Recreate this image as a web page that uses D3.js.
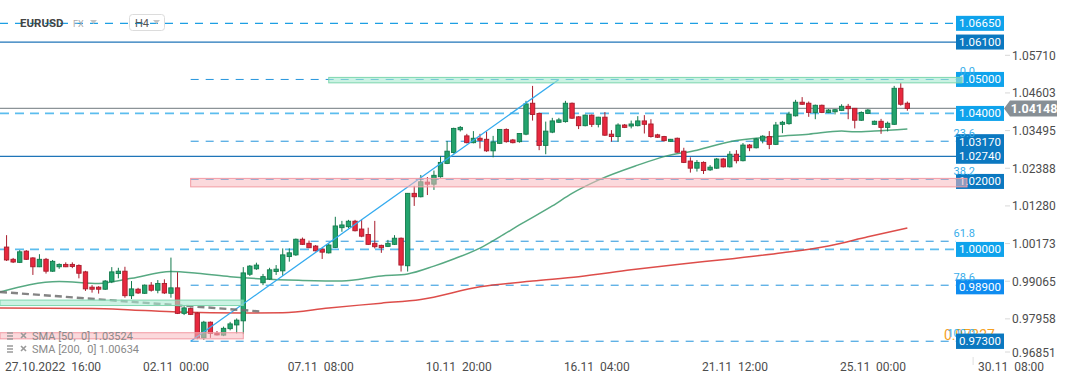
<!DOCTYPE html>
<html>
<head>
<meta charset="utf-8">
<script src="https://cdn.jsdelivr.net/npm/d3@7"></script>
<style>
  html, body { margin: 0; padding: 0; background: #fff; }
  svg { display: block; font-family: Roboto, "Noto Sans", sans-serif; }
</style>
</head>
<body>
<div id="chart"></div>
<script>
// ---------- data (EURUSD, H4) ----------
const firstBar = 1;
const opens = [1.0007,0.9971,0.9962,0.9995,0.9975,0.9949,0.9971,0.9936,0.9949,0.9956,0.9956,0.9953,0.9934,0.9889,0.9889,0.9883,0.9905,0.9929,0.9936,0.9864,
  0.9883,0.9871,0.9895,0.9880,0.9900,0.9871,0.9887,0.9812,0.9826,0.9813,0.9740,0.9786,0.9753,0.9748,0.9767,0.9778,0.9790,0.9927,0.9943,0.9902,
  0.9913,0.9935,0.9937,0.9979,0.9984,1.0030,1.0018,1.0010,1.0001,0.9990,1.0006,1.0064,1.0067,1.0083,1.0060,1.0044,1.0018,1.0012,1.0009,1.0015,
  1.0033,0.9952,1.0165,1.0155,1.0198,1.0192,1.0214,1.0253,1.0285,1.0352,1.0334,1.0314,1.0327,1.0324,1.0290,1.0312,1.0353,1.0322,1.0317,1.0339,
  1.0430,1.0400,1.0306,1.0345,1.0374,1.0376,1.0430,1.0390,1.0364,1.0395,1.0368,1.0389,1.0339,1.0332,1.0366,1.0363,1.0364,1.0378,1.0369,1.0337,
  1.0332,1.0318,1.0327,1.0289,1.0260,1.0239,1.0256,1.0234,1.0239,1.0266,1.0243,1.0280,1.0261,1.0307,1.0299,1.0321,1.0332,1.0309,1.0368,1.0370,
  1.0393,1.0433,1.0430,1.0403,1.0424,1.0403,1.0405,1.0409,1.0421,1.0415,1.0380,1.0400,1.0368,1.0377,1.0359,1.0368,1.0474,1.0430];
const highs = [1.0042,0.9975,0.9998,0.9998,0.9977,0.9986,0.9975,0.9969,0.9959,0.9962,0.9962,0.9956,0.9937,0.9895,0.9892,0.9910,0.9948,0.9946,0.9949,0.9907,
  0.9887,0.9897,0.9904,0.9910,0.9912,0.9976,0.9933,0.9833,0.9829,0.9816,0.9790,0.9788,0.9760,0.9773,0.9787,0.9797,0.9948,0.9954,0.9961,0.9928,
  0.9946,0.9954,1.0003,1.0003,1.0032,1.0035,1.0026,1.0013,1.0003,1.0018,1.0096,1.0084,1.0087,1.0087,1.0087,1.0064,1.0084,1.0014,1.0028,1.0042,
  1.0035,1.0166,1.0187,1.0219,1.0213,1.0232,1.0275,1.0319,1.0358,1.0363,1.0340,1.0348,1.0340,1.0347,1.0334,1.0354,1.0356,1.0325,1.0342,1.0437,
  1.0481,1.0403,1.0376,1.0387,1.0387,1.0437,1.0432,1.0392,1.0397,1.0397,1.0390,1.0404,1.0351,1.0371,1.0369,1.0379,1.0392,1.0395,1.0383,1.0340,
  1.0334,1.0325,1.0329,1.0299,1.0271,1.0263,1.0259,1.0248,1.0269,1.0269,1.0289,1.0292,1.0313,1.0310,1.0328,1.0336,1.0348,1.0375,1.0378,1.0405,
  1.0440,1.0448,1.0435,1.0426,1.0426,1.0413,1.0413,1.0427,1.0428,1.0416,1.0406,1.0413,1.0379,1.0384,1.0376,1.0481,1.0489,1.0435];
const lows = [0.9966,0.9960,0.9960,0.9969,0.9925,0.9948,0.9929,0.9934,0.9943,0.9948,0.9945,0.9915,0.9878,0.9873,0.9870,0.9881,0.9901,0.9915,0.9858,0.9854,
  0.9869,0.9869,0.9876,0.9871,0.9869,0.9858,0.9810,0.9807,0.9807,0.9736,0.9734,0.9740,0.9747,0.9745,0.9762,0.9753,0.9751,0.9922,0.9940,0.9895,
  0.9910,0.9925,0.9922,0.9964,0.9981,1.0013,1.0004,0.9994,0.9972,0.9988,1.0004,1.0052,1.0062,1.0053,1.0036,1.0013,1.0003,0.9990,1.0007,1.0013,
  0.9935,0.9935,1.0128,1.0153,1.0160,1.0175,1.0211,1.0251,1.0282,1.0347,1.0312,1.0312,1.0297,1.0287,1.0271,1.0310,1.0314,1.0312,1.0314,1.0336,
  1.0379,1.0292,1.0280,1.0342,1.0372,1.0373,1.0384,1.0354,1.0362,1.0360,1.0359,1.0334,1.0317,1.0317,1.0357,1.0356,1.0362,1.0341,1.0329,1.0328,
  1.0317,1.0316,1.0284,1.0254,1.0226,1.0229,1.0222,1.0231,1.0237,1.0241,1.0241,1.0253,1.0259,1.0289,1.0297,1.0312,1.0295,1.0307,1.0342,1.0367,
  1.0391,1.0425,1.0390,1.0383,1.0401,1.0401,1.0397,1.0407,1.0383,1.0356,1.0378,1.0398,1.0366,1.0340,1.0347,1.0366,1.0423,1.0408];
const closes = [0.9969,0.9963,0.9993,0.9971,0.9949,0.9971,0.9936,0.9965,0.9956,0.9949,0.9950,0.9930,0.9884,0.9883,0.9883,0.9907,0.9934,0.9936,0.9864,0.9884,
  0.9872,0.9895,0.9880,0.9900,0.9872,0.9887,0.9812,0.9828,0.9809,0.9740,0.9786,0.9753,0.9749,0.9768,0.9781,0.9792,0.9931,0.9951,0.9954,0.9920,
  0.9940,0.9942,0.9984,0.9990,1.0030,1.0015,1.0005,0.9996,0.9992,1.0013,1.0069,1.0072,1.0083,1.0055,1.0039,1.0015,1.0008,1.0005,1.0018,1.0033,
  0.9954,1.0165,1.0155,1.0199,1.0192,1.0218,1.0256,1.0289,1.0356,1.0359,1.0314,1.0327,1.0321,1.0290,1.0316,1.0353,1.0317,1.0314,1.0341,1.0428,
  1.0397,1.0306,1.0348,1.0378,1.0381,1.0430,1.0386,1.0364,1.0395,1.0368,1.0389,1.0336,1.0332,1.0366,1.0359,1.0369,1.0378,1.0368,1.0332,1.0330,
  1.0320,1.0324,1.0286,1.0256,1.0239,1.0256,1.0232,1.0242,1.0266,1.0243,1.0280,1.0261,1.0307,1.0299,1.0325,1.0333,1.0309,1.0366,1.0374,1.0398,
  1.0433,1.0427,1.0403,1.0424,1.0403,1.0410,1.0411,1.0421,1.0414,1.0380,1.0403,1.0410,1.0377,1.0359,1.0371,1.0474,1.0427,1.04148];

// moving averages (bar index / value)
const sma50Idx = [0,9,15,20,26,30,35,40,46,52,58,62,66,69,73,76,79,84,87,91,97,101,106,111,118,123,128,130,133,138];
const sma50Val = [0.9875,0.9906,0.9900,0.9915,0.9935,0.9930,0.9920,0.9913,0.9909,0.9907,0.9922,0.9928,0.9951,0.9972,1.0004,1.0037,1.0072,1.0128,1.0165,1.0204,
  1.0248,1.0273,1.0292,1.0317,1.0332,1.0339,1.0348,1.0346,1.0348,1.0354];
const sma200Idx = [0,14,20,27,37,43,50,58,64,73,81,88,96,103,111,119,126,132,138];
const sma200Val = [0.9828,0.9826,0.9822,0.9816,0.9813,0.9814,0.9828,0.9842,0.9853,0.9890,0.9907,0.9920,0.9940,0.9956,0.9972,0.9990,1.0010,1.0037,1.0063];

// price axis ticks
const priceTicks = [1.05710,1.04603,1.03495,1.02388,1.01280,1.00173,0.99065,0.97958,0.96851];
// time axis
const timeTickIdx = [0,21,43,64,85,106,127,148];
const timeTickLabels = ["27.10.2022  16:00","02.11  00:00","07.11  08:00","10.11  20:00","16.11  04:00","21.11  12:00","25.11  00:00","30.11  08:00"];

// horizontal levels: price, line kind, label box kind
const levelPrices = [1.0665,1.0610,1.0500,1.0400,1.0317,1.0274,1.0200,1.0000,0.9890,0.9730];
const levelLines  = ["dash","solid","none","dashLight","none","solid","none","dashLight","none","none"];
const levelBoxes  = ["light","dark","light","light","dark","dark","dark","light","mid","dark"];
const lastPrice = 1.04148;

// fibonacci retracement (start bar, low -> end bar, high)
const fibStartIdx = 29, fibEndIdx = 85, fibLow = 0.9730, fibHigh = 1.0500;
const fibLevels = [0, 23.6, 38.2, 61.8, 78.6, 100];
const fibLabels = ["0.0","23.6","38.2","61.8","78.6","100.0"];

// zones: start bar, end bar (null = right edge), top, bottom, colour kind
const zoneStart = [50, 29, 0, 0];
const zoneEnd   = [null, null, 37, 37];
const zoneTop   = [1.0506, 1.0209, 0.9851, 0.9755];
const zoneBot   = [1.0490, 1.0184, 0.9835, 0.9737];
const zoneKind  = ["green","pink","green","pink"];

// dashed grey trendline
const trendIdx = [0, 40];
const trendVal = [0.9875, 0.9817];

const smaLegend = [["SMA [50,  0]", "1.03524"], ["SMA [200,  0]", "1.00634"]];

// ---------- setup ----------
const W = 1072, H = 382;
const plotRight = 956;
const x = d3.scaleLinear().domain([0, 148]).range([0, 973.1]);
const y = d3.scaleLinear().domain([0.96851, 1.05710]).range([356.5, 55.3]);

const svg = d3.select("#chart").append("svg").attr("width", W).attr("height", H);
svg.append("defs").append("clipPath").attr("id", "plotClip")
  .append("rect").attr("x", 0).attr("y", 0).attr("width", plotRight).attr("height", 358);

const plot = svg.append("g").attr("clip-path", "url(#plotClip)");

// level lines
levelPrices.forEach((p, i) => {
  const k = levelLines[i];
  if (k === "none") return;
  const ln = plot.append("line").attr("x1", 0).attr("x2", plotRight)
    .attr("y1", y(p)).attr("y2", y(p));
  if (k === "solid") ln.attr("stroke", "#1f75b8").attr("stroke-width", 1.3);
  if (k === "dash") ln.attr("stroke", "#1e9fe3").attr("stroke-width", 1.2).attr("stroke-dasharray", "8,7");
  if (k === "dashLight") ln.attr("stroke", "#5cbdee").attr("stroke-width", 1.8).attr("stroke-dasharray", "9,6");
});

// fib lines
const fibPrice = lv => fibHigh - (fibHigh - fibLow) * lv / 100;
fibLevels.forEach(lv => {
  plot.append("line").attr("x1", x(fibStartIdx)).attr("x2", plotRight)
    .attr("y1", y(fibPrice(lv))).attr("y2", y(fibPrice(lv)))
    .attr("stroke", "#2394dc").attr("stroke-width", 1).attr("stroke-dasharray", "8,7");
});

// last price line
plot.append("line").attr("x1", 0).attr("x2", plotRight)
  .attr("y1", y(lastPrice)).attr("y2", y(lastPrice))
  .attr("stroke", "#8c9397").attr("stroke-width", 1.4);

// SMAs
const smaLine = d3.line().x(d => x(d[0])).y(d => y(d[1])).curve(d3.curveMonotoneX);
plot.append("path").datum(sma200Idx.map((d, i) => [d, sma200Val[i]]))
  .attr("d", smaLine).attr("fill", "none").attr("stroke", "#d93a36").attr("stroke-width", 1.5).attr("opacity", 0.9);
plot.append("path").datum(sma50Idx.map((d, i) => [d, sma50Val[i]]))
  .attr("d", smaLine).attr("fill", "none").attr("stroke", "#3a9a6c").attr("stroke-width", 1.5).attr("opacity", 0.85);

// candles
const bars = opens.map((o, i) => ({ i: i + firstBar, o, h: highs[i], l: lows[i], c: closes[i] }));
const cg = plot.append("g");
const bw = 4.4;
bars.forEach(b => {
  const up = b.c >= b.o;
  const edge = up ? "#137a4c" : "#a81c2c";
  const fill = up ? "#23a46d" : "#e8283e";
  const cx = x(b.i);
  cg.append("line").attr("x1", cx).attr("x2", cx).attr("y1", y(b.h)).attr("y2", y(b.l))
    .attr("stroke", edge).attr("stroke-width", 1);
  const top = y(Math.max(b.o, b.c)), bot = y(Math.min(b.o, b.c));
  cg.append("rect").attr("x", cx - bw / 2).attr("y", top)
    .attr("width", bw).attr("height", Math.max(1.5, bot - top))
    .attr("fill", fill).attr("stroke", edge).attr("stroke-width", 0.9);
});

// fib diagonal
plot.append("line")
  .attr("x1", x(fibStartIdx)).attr("y1", y(fibLow))
  .attr("x2", x(fibEndIdx)).attr("y2", y(fibHigh))
  .attr("stroke", "#34abef").attr("stroke-width", 1.3);

// grey dashed trendline
plot.append("line")
  .attr("x1", x(trendIdx[0])).attr("y1", y(trendVal[0]))
  .attr("x2", x(trendIdx[1])).attr("y2", y(trendVal[1]))
  .attr("stroke", "#6f6f6f").attr("stroke-width", 2.4).attr("stroke-dasharray", "7,4").attr("opacity", 0.85);

// right-axis label boxes
const boxCol = { light: "#0fa3ec", mid: "#0f8cf0", dark: "#0b78c0" };
levelPrices.forEach((p, i) => {
  const yy = y(p);
  svg.append("rect").attr("x", plotRight).attr("y", yy - 7.5).attr("width", 48).attr("height", 15)
    .attr("fill", boxCol[levelBoxes[i]]);
  svg.append("text").attr("x", plotRight + 24).attr("y", yy + 4).attr("text-anchor", "middle")
    .attr("fill", "#fff").attr("font-size", 11.5).text(p.toFixed(5));
});

// zones (drawn over candles, semi-transparent)
zoneStart.forEach((s, i) => {
  const x0 = x(s), x1 = zoneEnd[i] === null ? (zoneKind[i] === "green" ? 962 : 967) : x(zoneEnd[i]);
  const green = zoneKind[i] === "green";
  svg.append("rect").attr("x", x0).attr("y", y(zoneTop[i]))
    .attr("width", x1 - x0).attr("height", y(zoneBot[i]) - y(zoneTop[i]))
    .attr("fill", green ? "#a9ead0" : "#f8b9bf").attr("fill-opacity", green ? 0.6 : 0.55)
    .attr("stroke", green ? "#7ed6ae" : "#f29aa3").attr("stroke-width", 1);
});

// fib level labels
fibLevels.forEach((lv, i) => {
  if (i === fibLevels.length - 1) return;
  svg.append("text").attr("x", 975).attr("y", y(fibPrice(lv)) - 4).attr("text-anchor", "end")
    .attr("fill", "#3aaeea").attr("font-size", 11).text(fibLabels[i]);
});
// overlapping labels at the bottom fib level
svg.append("text").attr("x", 944).attr("y", y(fibLow) - 1).attr("fill", "#f5a11f")
  .attr("font-size", 14).text("0.97327");
svg.append("text").attr("x", 975).attr("y", y(fibLow) - 4).attr("text-anchor", "end")
  .attr("fill", "#3aaeea").attr("font-size", 11).text(fibLabels[fibLabels.length - 1]);
// redraw the 0.97300 box over them
{
  const yy = y(0.9730);
  svg.append("rect").attr("x", plotRight).attr("y", yy - 7.5).attr("width", 48).attr("height", 15).attr("fill", boxCol.dark);
  svg.append("text").attr("x", plotRight + 24).attr("y", yy + 4).attr("text-anchor", "middle")
    .attr("fill", "#fff").attr("font-size", 11.5).text("0.97300");
}

// price axis
priceTicks.forEach(v => {
  const yy = Math.min(y(v), 352);
  svg.append("line").attr("x1", 1005).attr("x2", 1010).attr("y1", yy).attr("y2", yy)
    .attr("stroke", "#d8d8d8");
  svg.append("text").attr("x", 1012).attr("y", yy + 4.5).attr("fill", "#4d4d4d")
    .attr("font-size", 12).text(v.toFixed(5));
});

// last price tag
{
  const yy = y(lastPrice);
  svg.append("path")
    .attr("d", `M1004,${yy} L1010,${yy - 8} L1057,${yy - 8} L1057,${yy + 8} L1010,${yy + 8} Z`)
    .attr("fill", "#878f95");
  svg.append("text").attr("x", 1034).attr("y", yy + 4.5).attr("text-anchor", "middle")
    .attr("fill", "#fff").attr("font-size", 12.5).attr("font-weight", 700).text(lastPrice.toFixed(5));
}

// time axis
timeTickIdx.forEach((t, i) => {
  svg.append("text").attr("x", x(t) + 5).attr("y", 371).attr("fill", "#4d4d4d")
    .attr("font-size", 12).attr("xml:space", "preserve").style("white-space", "pre")
    .text(timeTickLabels[i]);
});
svg.append("line").attr("x1", x(148)).attr("x2", x(148)).attr("y1", 357).attr("y2", 365).attr("stroke", "#e0e0e0");

// SMA legend
smaLegend.forEach((d, i) => {
  const yy = 336 + i * 13;
  const g = svg.append("g").attr("fill", "#9a9a9a").attr("stroke", "#9a9a9a");
  [-3, 0, 3].forEach(o => g.append("line").attr("x1", 7).attr("x2", 13).attr("y1", yy + o).attr("y2", yy + o).attr("stroke-width", 1.5));
  g.append("line").attr("x1", 21).attr("x2", 26).attr("y1", yy - 3).attr("y2", yy + 2).attr("stroke-width", 1.6);
  g.append("line").attr("x1", 26).attr("x2", 21).attr("y1", yy - 3).attr("y2", yy + 2).attr("stroke-width", 1.6);
  svg.append("text").attr("x", 32).attr("y", yy + 4).attr("fill", "#8a8a8a").attr("font-size", 11)
    .style("white-space", "pre").text(d[0] + " " + d[1]);
});

// title
svg.append("text").attr("x", 20).attr("y", 27).attr("fill", "#444").attr("font-size", 11.5)
  .attr("font-weight", 700).text("EURUSD");
svg.append("text").attr("x", 73).attr("y", 27).attr("fill", "#aaa").attr("font-size", 9).text("FX");
svg.append("path").attr("d", "M90,20 L97,20 L93.5,24 Z").attr("fill", "#c4c4c4");
svg.append("rect").attr("x", 129.5).attr("y", 14.5).attr("width", 35).attr("height", 16).attr("rx", 3)
  .attr("fill", "none").attr("stroke", "#dcdcdc");
svg.append("text").attr("x", 135).attr("y", 27).attr("fill", "#555").attr("font-size", 11).text("H4");
svg.append("path").attr("d", "M153,20 L160,20 L156.5,24 Z").attr("fill", "#c4c4c4");
</script>
</body>
</html>
